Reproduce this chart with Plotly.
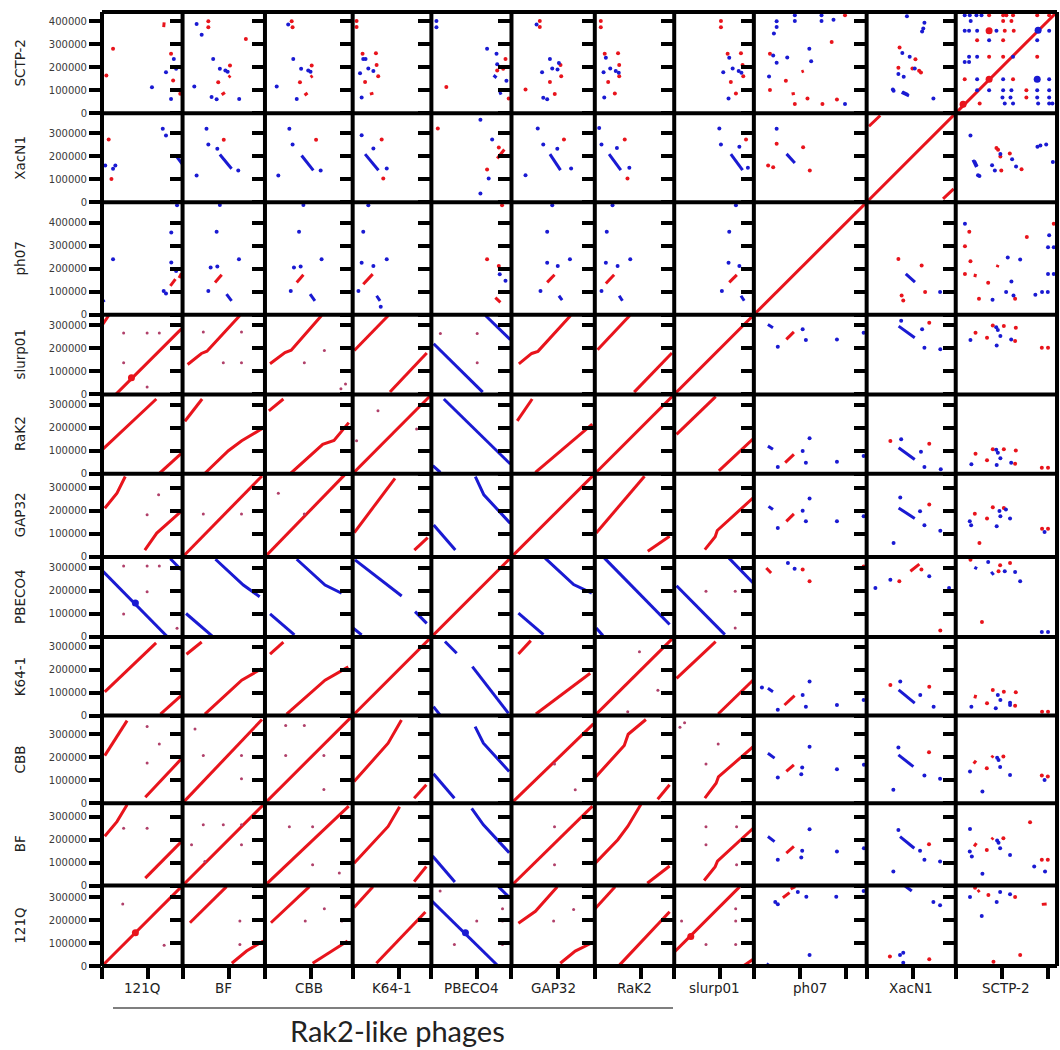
import plotly.graph_objects as go

# ---------------- data ----------------
GENOMES = ["121Q", "BF", "CBB", "K64-1", "PBECO4", "GAP32", "RaK2", "slurp01", "ph07", "XacN1", "SCTP-2"]
GENOME_KB = [350, 358, 381, 342, 348, 362, 345, 346, 490, 387, 440]
Y_TICK_VALUES = [0, 100000, 200000, 300000, 400000]
X_TICK_VALUES = [0, 200000, 400000]
GROUP_LABEL = "Rak2-like phages"

# forward (red) matches: (x genome, y genome, x kb list, y kb list); mirrored for the transposed panel
RED_LINES = [
    ("121Q", "slurp01", [60, 345], [0, 285]), ("121Q", "slurp01", [0, 29], [300, 343]),
    ("BF", "slurp01", [22, 82, 106, 249], [130, 178, 188, 343]),
    ("CBB", "slurp01", [22, 87, 114, 246], [133, 182, 192, 343]),
    ("K64-1", "slurp01", [7, 155], [191, 343]), ("K64-1", "slurp01", [162, 322], [10, 180]),
    ("GAP32", "slurp01", [32, 88, 115, 257], [133, 178, 187, 343]),
    ("RaK2", "slurp01", [12, 152], [194, 343]), ("RaK2", "slurp01", [171, 335], [10, 180]),
    ("121Q", "RaK2", [5, 236], [108, 325]), ("121Q", "RaK2", [248, 345], [0, 88]),
    ("BF", "RaK2", [10, 85], [228, 325]), ("BF", "RaK2", [95, 199, 257, 352], [0, 100, 143, 200]),
    ("CBB", "RaK2", [17, 80], [273, 325]), ("CBB", "RaK2", [110, 251, 300, 364], [0, 128, 145, 222]),
    ("K64-1", "RaK2", [0, 335], [0, 337]),
    ("121Q", "GAP32", [12, 65, 101], [212, 277, 350]), ("121Q", "GAP32", [186, 238, 345], [30, 104, 199]),
    ("BF", "GAP32", [0, 345], [0, 352]),
    ("CBB", "GAP32", [0, 345], [0, 356]),
    ("K64-1", "GAP32", [7, 184], [106, 342]), ("K64-1", "GAP32", [268, 326], [30, 84]),
    ("GAP32", "RaK2", [25, 90], [230, 325]), ("GAP32", "RaK2", [104, 264, 351], [6, 141, 216]),
    ("121Q", "K64-1", [12, 235], [103, 316]), ("121Q", "K64-1", [254, 345], [6, 88]),
    ("BF", "K64-1", [17, 83], [267, 320]), ("BF", "K64-1", [97, 257, 343], [6, 154, 204]),
    ("CBB", "K64-1", [22, 80], [267, 320]), ("CBB", "K64-1", [94, 261, 362], [6, 154, 212]),
    ("121Q", "CBB", [12, 70, 109], [207, 301, 359]), ("121Q", "CBB", [188, 345], [26, 193]),
    ("BF", "CBB", [0, 345], [0, 364]),
    ("121Q", "BF", [12, 65, 109], [214, 278, 351]), ("121Q", "BF", [188, 345], [32, 191]),
    ("121Q", "SCTP-2", [268, 270], [374, 395]), ("121Q", "SCTP-2", [322, 330], [95, 104]),
    ("BF", "SCTP-2", [200, 208], [156, 163]), ("BF", "SCTP-2", [170, 184], [80, 90]),
    ("CBB", "SCTP-2", [198, 207], [156, 163]), ("CBB", "SCTP-2", [172, 185], [78, 88]),
    ("K64-1", "SCTP-2", [75, 90], [83, 87]),
    ("ph07", "SCTP-2", [207, 217], [180, 184]), ("ph07", "SCTP-2", [164, 178], [83, 86]),
    ("PBECO4", "XacN1", [286, 317], [190, 229]),
    ("121Q", "ph07", [335, 345], [160, 180]), ("121Q", "ph07", [297, 319], [126, 155]),
    ("BF", "ph07", [141, 170], [141, 174]), ("CBB", "ph07", [138, 167], [141, 174]),
    ("K64-1", "ph07", [46, 87], [133, 177]), ("PBECO4", "ph07", [278, 300], [75, 54]),
    ("GAP32", "ph07", [155, 187], [141, 174]), ("RaK2", "ph07", [48, 84], [136, 174]),
    ("slurp01", "ph07", [239, 272], [141, 174]),
    ("XacN1", "XacN1", [10, 59], [330, 377]), ("XacN1", "XacN1", [332, 378], [14, 58]),
]

# reverse (blue) matches
BLUE_LINES = [
    ("121Q", "PBECO4", [0, 285], [290, 0]), ("121Q", "PBECO4", [297, 345], [340, 291]),
    ("BF", "PBECO4", [143, 264, 335], [338, 226, 175]), ("BF", "PBECO4", [15, 128], [102, 5]),
    ("CBB", "PBECO4", [138, 261, 333], [338, 226, 190]), ("CBB", "PBECO4", [22, 128], [100, 9]),
    ("K64-1", "PBECO4", [10, 213], [335, 178]), ("K64-1", "PBECO4", [271, 322], [110, 59]),
    ("K64-1", "PBECO4", [0, 39], [40, 9]),
    ("PBECO4", "GAP32", [191, 228, 343], [349, 270, 146]), ("PBECO4", "GAP32", [10, 104], [139, 30]),
    ("PBECO4", "RaK2", [54, 343], [325, 42]), ("PBECO4", "RaK2", [6, 39], [35, 6]),
    ("PBECO4", "slurp01", [10, 223], [220, 10]), ("PBECO4", "slurp01", [235, 343], [343, 238]),
    ("121Q", "XacN1", [326, 348], [196, 167]), ("BF", "XacN1", [162, 213], [207, 145]),
    ("CBB", "XacN1", [159, 210], [203, 138]), ("K64-1", "XacN1", [54, 112], [209, 139]),
    ("GAP32", "XacN1", [167, 213], [209, 139]), ("RaK2", "XacN1", [62, 113], [209, 139]),
    ("slurp01", "XacN1", [246, 297], [209, 139]), ("ph07", "XacN1", [142, 178], [210, 170]),
    ("SCTP-2", "XacN1", [75, 90], [184, 152]),
    ("PBECO4", "SCTP-2", [270, 283], [165, 154]), ("PBECO4", "SCTP-2", [297, 303], [93, 81]),
    ("XacN1", "SCTP-2", [155, 180], [93, 81]),
    ("121Q", "ph07", [0, 10], [70, 55]), ("BF", "ph07", [191, 213], [90, 61]),
    ("CBB", "ph07", [196, 217], [90, 61]), ("K64-1", "ph07", [104, 119], [83, 61]),
    ("GAP32", "ph07", [206, 220], [83, 64]), ("RaK2", "ph07", [106, 120], [83, 61]),
    ("slurp01", "ph07", [290, 304], [83, 61]),
]

RED_DOTS = [
    ("121Q", "SCTP-2", 48, 280), ("121Q", "SCTP-2", 19, 164), ("121Q", "SCTP-2", 300, 258), ("121Q", "SCTP-2", 309, 142), ("121Q", "SCTP-2", 340, 84),
    ("BF", "SCTP-2", 112, 400), ("BF", "SCTP-2", 112, 374), ("BF", "SCTP-2", 206, 207), ("BF", "SCTP-2", 155, 135), ("BF", "SCTP-2", 275, 323),
    ("CBB", "SCTP-2", 116, 400), ("CBB", "SCTP-2", 120, 374), ("CBB", "SCTP-2", 203, 207), ("CBB", "SCTP-2", 152, 135),
    ("K64-1", "SCTP-2", 17, 401), ("K64-1", "SCTP-2", 17, 375), ("K64-1", "SCTP-2", 43, 258), ("K64-1", "SCTP-2", 101, 261), ("K64-1", "SCTP-2", 104, 209), ("K64-1", "SCTP-2", 111, 161), ("K64-1", "SCTP-2", 54, 136),
    ("PBECO4", "SCTP-2", 322, 236), ("PBECO4", "SCTP-2", 286, 186), ("PBECO4", "SCTP-2", 312, 193), ("PBECO4", "SCTP-2", 336, 64), ("PBECO4", "SCTP-2", 65, 114),
    ("GAP32", "SCTP-2", 123, 401), ("GAP32", "SCTP-2", 123, 375), ("GAP32", "SCTP-2", 213, 209), ("GAP32", "SCTP-2", 216, 161), ("GAP32", "SCTP-2", 167, 136), ("GAP32", "SCTP-2", 188, 83), ("GAP32", "SCTP-2", 61, 103),
    ("RaK2", "SCTP-2", 26, 401), ("RaK2", "SCTP-2", 26, 374), ("RaK2", "SCTP-2", 43, 258), ("RaK2", "SCTP-2", 101, 261), ("RaK2", "SCTP-2", 106, 209), ("RaK2", "SCTP-2", 106, 161), ("RaK2", "SCTP-2", 58, 136), ("RaK2", "SCTP-2", 87, 86),
    ("slurp01", "SCTP-2", 203, 401), ("slurp01", "SCTP-2", 203, 374), ("slurp01", "SCTP-2", 232, 258), ("slurp01", "SCTP-2", 290, 261), ("slurp01", "SCTP-2", 297, 209), ("slurp01", "SCTP-2", 300, 161), ("slurp01", "SCTP-2", 246, 136), ("slurp01", "SCTP-2", 268, 86),
    ("ph07", "SCTP-2", 396, 426), ("ph07", "SCTP-2", 338, 309), ("ph07", "SCTP-2", 70, 258), ("ph07", "SCTP-2", 139, 141), ("ph07", "SCTP-2", 178, 40), ("ph07", "SCTP-2", 233, 64), ("ph07", "SCTP-2", 298, 40), ("ph07", "SCTP-2", 361, 59), ("ph07", "SCTP-2", 70, 101),
    ("XacN1", "SCTP-2", 143, 286), ("XacN1", "SCTP-2", 228, 184), ("XacN1", "SCTP-2", 199, 194),
    ("SCTP-2", "SCTP-2", 145, 426), ("SCTP-2", "SCTP-2", 206, 426), ("SCTP-2", "SCTP-2", 220, 426), ("SCTP-2", "SCTP-2", 249, 426), ("SCTP-2", "SCTP-2", 354, 426), ("SCTP-2", "SCTP-2", 406, 426),
    ("SCTP-2", "SCTP-2", 206, 401), ("SCTP-2", "SCTP-2", 242, 401), ("SCTP-2", "SCTP-2", 213, 358), ("SCTP-2", "SCTP-2", 252, 358),
    ("SCTP-2", "SCTP-2", 93, 317), ("SCTP-2", "SCTP-2", 206, 317), ("SCTP-2", "SCTP-2", 145, 245), ("SCTP-2", "SCTP-2", 206, 245), ("SCTP-2", "SCTP-2", 354, 245),
    ("SCTP-2", "SCTP-2", 39, 148), ("SCTP-2", "SCTP-2", 249, 148), ("SCTP-2", "SCTP-2", 307, 100), ("SCTP-2", "SCTP-2", 307, 68), ("SCTP-2", "SCTP-2", 104, 42),
    ("121Q", "XacN1", 29, 272), ("121Q", "XacN1", 41, 101), ("BF", "XacN1", 179, 271), ("CBB", "XacN1", 222, 271),
    ("K64-1", "XacN1", 126, 272), ("K64-1", "XacN1", 133, 103),
    ("PBECO4", "XacN1", 293, 238), ("PBECO4", "XacN1", 242, 142), ("PBECO4", "XacN1", 28, 320),
    ("GAP32", "XacN1", 228, 272), ("RaK2", "XacN1", 130, 272), ("RaK2", "XacN1", 142, 103), ("slurp01", "XacN1", 312, 272),
    ("ph07", "XacN1", 214, 239), ("ph07", "XacN1", 99, 254), ("ph07", "XacN1", 62, 159), ("ph07", "XacN1", 84, 152), ("ph07", "XacN1", 243, 138),
    ("SCTP-2", "XacN1", 177, 236), ("SCTP-2", "XacN1", 235, 212), ("SCTP-2", "XacN1", 198, 138),
    ("PBECO4", "ph07", 307, 477), ("PBECO4", "ph07", 242, 242), ("PBECO4", "ph07", 293, 212),
]

BLUE_DOTS = [
    ("121Q", "SCTP-2", 312, 236), ("121Q", "SCTP-2", 278, 178), ("121Q", "SCTP-2", 322, 193), ("121Q", "SCTP-2", 300, 62), ("121Q", "SCTP-2", 217, 113),
    ("BF", "SCTP-2", 61, 388), ("BF", "SCTP-2", 133, 236), ("BF", "SCTP-2", 162, 193), ("BF", "SCTP-2", 186, 186), ("BF", "SCTP-2", 196, 180), ("BF", "SCTP-2", 51, 116), ("BF", "SCTP-2", 148, 61), ("BF", "SCTP-2", 126, 70), ("BF", "SCTP-2", 246, 62), ("BF", "SCTP-2", 83, 341),
    ("CBB", "SCTP-2", 101, 386), ("CBB", "SCTP-2", 123, 236), ("CBB", "SCTP-2", 157, 193), ("CBB", "SCTP-2", 188, 186), ("CBB", "SCTP-2", 198, 180), ("CBB", "SCTP-2", 51, 116), ("CBB", "SCTP-2", 138, 62),
    ("K64-1", "SCTP-2", 46, 236), ("K64-1", "SCTP-2", 56, 236), ("K64-1", "SCTP-2", 68, 194), ("K64-1", "SCTP-2", 32, 174), ("K64-1", "SCTP-2", 90, 183), ("K64-1", "SCTP-2", 39, 68),
    ("PBECO4", "SCTP-2", 22, 401), ("PBECO4", "SCTP-2", 22, 374), ("PBECO4", "SCTP-2", 242, 280), ("PBECO4", "SCTP-2", 283, 258), ("PBECO4", "SCTP-2", 286, 213), ("PBECO4", "SCTP-2", 326, 141),
    ("GAP32", "SCTP-2", 109, 386), ("GAP32", "SCTP-2", 167, 236), ("GAP32", "SCTP-2", 206, 218), ("GAP32", "SCTP-2", 177, 194), ("GAP32", "SCTP-2", 200, 190), ("GAP32", "SCTP-2", 133, 178), ("GAP32", "SCTP-2", 138, 67), ("GAP32", "SCTP-2", 155, 61),
    ("RaK2", "SCTP-2", 48, 241), ("RaK2", "SCTP-2", 67, 194), ("RaK2", "SCTP-2", 38, 178), ("RaK2", "SCTP-2", 91, 183), ("RaK2", "SCTP-2", 104, 176), ("RaK2", "SCTP-2", 41, 68),
    ("slurp01", "SCTP-2", 239, 241), ("slurp01", "SCTP-2", 213, 178), ("slurp01", "SCTP-2", 254, 194), ("slurp01", "SCTP-2", 280, 183), ("slurp01", "SCTP-2", 292, 176), ("slurp01", "SCTP-2", 236, 64),
    ("ph07", "SCTP-2", 99, 400), ("ph07", "SCTP-2", 99, 375), ("ph07", "SCTP-2", 87, 346), ("ph07", "SCTP-2", 178, 426), ("ph07", "SCTP-2", 178, 401), ("ph07", "SCTP-2", 294, 426), ("ph07", "SCTP-2", 294, 401), ("ph07", "SCTP-2", 346, 406),
    ("ph07", "SCTP-2", 241, 280), ("ph07", "SCTP-2", 84, 251), ("ph07", "SCTP-2", 99, 219), ("ph07", "SCTP-2", 145, 242), ("ph07", "SCTP-2", 249, 226), ("ph07", "SCTP-2", 66, 160), ("ph07", "SCTP-2", 396, 40),
    ("XacN1", "SCTP-2", 175, 422), ("XacN1", "SCTP-2", 241, 355), ("XacN1", "SCTP-2", 155, 262), ("XacN1", "SCTP-2", 187, 245), ("XacN1", "SCTP-2", 209, 194), ("XacN1", "SCTP-2", 161, 158), ("XacN1", "SCTP-2", 138, 170), ("XacN1", "SCTP-2", 114, 103),
    ("SCTP-2", "SCTP-2", 39, 426), ("SCTP-2", "SCTP-2", 61, 426), ("SCTP-2", "SCTP-2", 90, 426), ("SCTP-2", "SCTP-2", 112, 426), ("SCTP-2", "SCTP-2", 65, 401),
    ("SCTP-2", "SCTP-2", 39, 358), ("SCTP-2", "SCTP-2", 58, 358), ("SCTP-2", "SCTP-2", 93, 358), ("SCTP-2", "SCTP-2", 177, 358), ("SCTP-2", "SCTP-2", 406, 358),
    ("SCTP-2", "SCTP-2", 145, 317), ("SCTP-2", "SCTP-2", 354, 317), ("SCTP-2", "SCTP-2", 58, 245), ("SCTP-2", "SCTP-2", 93, 245), ("SCTP-2", "SCTP-2", 249, 245),
    ("SCTP-2", "SCTP-2", 39, 223), ("SCTP-2", "SCTP-2", 58, 223), ("SCTP-2", "SCTP-2", 93, 148), ("SCTP-2", "SCTP-2", 206, 148), ("SCTP-2", "SCTP-2", 406, 148),
    ("SCTP-2", "SCTP-2", 93, 100), ("SCTP-2", "SCTP-2", 145, 100), ("SCTP-2", "SCTP-2", 206, 100), ("SCTP-2", "SCTP-2", 242, 100), ("SCTP-2", "SCTP-2", 354, 100), ("SCTP-2", "SCTP-2", 406, 100),
    ("SCTP-2", "SCTP-2", 203, 68), ("SCTP-2", "SCTP-2", 238, 68), ("SCTP-2", "SCTP-2", 354, 68), ("SCTP-2", "SCTP-2", 406, 68),
    ("SCTP-2", "SCTP-2", 213, 42), ("SCTP-2", "SCTP-2", 249, 42), ("SCTP-2", "SCTP-2", 358, 42), ("SCTP-2", "SCTP-2", 406, 42), ("SCTP-2", "SCTP-2", 420, 42),
    ("121Q", "XacN1", 264, 319), ("121Q", "XacN1", 278, 290), ("121Q", "XacN1", 14, 159), ("121Q", "XacN1", 58, 159), ("121Q", "XacN1", 48, 145),
    ("BF", "XacN1", 104, 319), ("BF", "XacN1", 112, 251), ("BF", "XacN1", 151, 232), ("BF", "XacN1", 242, 138), ("BF", "XacN1", 61, 116),
    ("CBB", "XacN1", 106, 319), ("CBB", "XacN1", 120, 251), ("CBB", "XacN1", 242, 138), ("CBB", "XacN1", 58, 116),
    ("K64-1", "XacN1", 39, 291), ("K64-1", "XacN1", 90, 233), ("K64-1", "XacN1", 148, 146),
    ("PBECO4", "XacN1", 213, 358), ("PBECO4", "XacN1", 249, 103), ("PBECO4", "XacN1", 264, 272), ("PBECO4", "XacN1", 213, 38),
    ("GAP32", "XacN1", 114, 320), ("GAP32", "XacN1", 138, 251), ("GAP32", "XacN1", 199, 232), ("GAP32", "XacN1", 259, 146), ("GAP32", "XacN1", 61, 117),
    ("RaK2", "XacN1", 19, 322), ("RaK2", "XacN1", 29, 251), ("RaK2", "XacN1", 96, 236), ("RaK2", "XacN1", 150, 150),
    ("slurp01", "XacN1", 196, 320), ("slurp01", "XacN1", 203, 251), ("slurp01", "XacN1", 283, 241), ("slurp01", "XacN1", 320, 150),
    ("ph07", "XacN1", 99, 319), ("SCTP-2", "XacN1", 64, 290), ("SCTP-2", "XacN1", 368, 246), ("SCTP-2", "XacN1", 393, 251), ("SCTP-2", "XacN1", 97, 117),
    ("121Q", "ph07", 326, 477), ("121Q", "ph07", 301, 358), ("121Q", "ph07", 48, 242), ("121Q", "ph07", 301, 228), ("121Q", "ph07", 322, 191), ("121Q", "ph07", 268, 104), ("121Q", "ph07", 278, 93),
    ("BF", "ph07", 162, 478), ("BF", "ph07", 148, 361), ("BF", "ph07", 245, 242), ("BF", "ph07", 122, 206), ("BF", "ph07", 151, 210), ("BF", "ph07", 112, 104),
    ("CBB", "ph07", 167, 478), ("CBB", "ph07", 148, 361), ("CBB", "ph07", 246, 242), ("CBB", "ph07", 126, 206), ("CBB", "ph07", 155, 210), ("CBB", "ph07", 112, 104),
    ("K64-1", "ph07", 68, 477), ("K64-1", "ph07", 46, 361), ("K64-1", "ph07", 39, 226), ("K64-1", "ph07", 90, 212), ("K64-1", "ph07", 148, 242), ("K64-1", "ph07", 25, 104), ("K64-1", "ph07", 122, 35),
    ("PBECO4", "ph07", 297, 177), ("PBECO4", "ph07", 322, 148),
    ("GAP32", "ph07", 177, 477), ("GAP32", "ph07", 155, 361), ("GAP32", "ph07", 155, 226), ("GAP32", "ph07", 201, 212), ("GAP32", "ph07", 254, 242), ("GAP32", "ph07", 126, 104),
    ("RaK2", "ph07", 77, 477), ("RaK2", "ph07", 52, 361), ("RaK2", "ph07", 48, 226), ("RaK2", "ph07", 99, 212), ("RaK2", "ph07", 154, 242), ("RaK2", "ph07", 29, 104),
    ("slurp01", "ph07", 268, 477), ("slurp01", "ph07", 239, 361), ("slurp01", "ph07", 236, 226), ("slurp01", "ph07", 283, 212), ("slurp01", "ph07", 207, 104),
]

# weak, short hits inside the Rak2-like block
FAINT_DOTS = [
    ("121Q", "slurp01", 94, 267), ("121Q", "slurp01", 94, 138), ("121Q", "slurp01", 196, 267), ("121Q", "slurp01", 249, 267), ("121Q", "slurp01", 196, 32),
    ("BF", "slurp01", 90, 271), ("BF", "slurp01", 256, 271), ("BF", "slurp01", 177, 138), ("BF", "slurp01", 256, 138),
    ("CBB", "slurp01", 171, 138), ("CBB", "slurp01", 258, 191), ("CBB", "slurp01", 330, 25), ("CBB", "slurp01", 350, 45),
    ("K64-1", "RaK2", 110, 274), ("K64-1", "RaK2", 278, 194), ("K64-1", "RaK2", 17, 143),
    ("121Q", "GAP32", 196, 183), ("121Q", "GAP32", 246, 270), ("BF", "GAP32", 90, 187), ("BF", "GAP32", 256, 187),
    ("CBB", "GAP32", 58, 277), ("CBB", "GAP32", 171, 187),
    ("121Q", "PBECO4", 94, 309), ("121Q", "PBECO4", 196, 309), ("121Q", "PBECO4", 249, 309), ("121Q", "PBECO4", 196, 197), ("121Q", "PBECO4", 94, 100), ("121Q", "PBECO4", 326, 38),
    ("PBECO4", "slurp01", 39, 265), ("PBECO4", "slurp01", 199, 265), ("PBECO4", "slurp01", 199, 138),
    ("121Q", "CBB", 196, 334), ("121Q", "CBB", 249, 258), ("121Q", "CBB", 196, 175),
    ("121Q", "BF", 196, 249), ("121Q", "BF", 94, 249), ("121Q", "121Q", 90, 270), ("121Q", "121Q", 270, 90),
    ("BF", "CBB", 90, 207), ("BF", "CBB", 256, 207), ("BF", "CBB", 256, 106), ("BF", "CBB", 54, 323),
    ("BF", "BF", 90, 264), ("BF", "BF", 177, 264), ("BF", "BF", 256, 264), ("BF", "BF", 39, 177), ("BF", "BF", 256, 177), ("BF", "BF", 97, 104),
    ("CBB", "CBB", 90, 338), ("CBB", "CBB", 171, 338), ("CBB", "CBB", 256, 207), ("CBB", "CBB", 90, 207), ("CBB", "CBB", 256, 60),
]

BIG_RED = [("121Q", "slurp01", 128, 72), ("121Q", "121Q", 145, 145), ("SCTP-2", "SCTP-2", 32, 39),
           ("SCTP-2", "SCTP-2", 145, 148), ("SCTP-2", "SCTP-2", 145, 358)]
BIG_BLUE = [("121Q", "PBECO4", 145, 148), ("SCTP-2", "SCTP-2", 358, 361), ("SCTP-2", "SCTP-2", 354, 148)]

RED = "#e8141c"
BLUE = "#1a1ad2"
FAINT = "#b0406a"

# ---------------- build ----------------
N = len(GENOMES)
IDX = {g: i for i, g in enumerate(GENOMES)}
TOTAL = float(sum(GENOME_KB))
STARTS = []
acc = 0
for L in GENOME_KB:
    STARTS.append(acc)
    acc += L


def aid(ci, ri):
    return ri * N + ci + 1


def ax_names(k):
    return ("x" if k == 1 else f"x{k}", "y" if k == 1 else f"y{k}")


panels = {}


def add_line(cg, rg, xs, ys, color):
    key = (IDX[cg], IDX[rg], color, "line")
    px, py = panels.setdefault(key, ([], []))
    px.extend([v * 1000 for v in xs] + [None])
    py.extend([v * 1000 for v in ys] + [None])


def add_dot(cg, rg, x, y, kind):
    key = (IDX[cg], IDX[rg], kind, "dot")
    px, py = panels.setdefault(key, ([], []))
    px.append(x * 1000)
    py.append(y * 1000)


for g, L in zip(GENOMES, GENOME_KB):
    add_line(g, g, [0, L], [0, L], RED)

for lines, color in ((RED_LINES, RED), (BLUE_LINES, BLUE)):
    for cg, rg, xs, ys in lines:
        add_line(cg, rg, xs, ys, color)
        if cg != rg:
            add_line(rg, cg, ys, xs, color)

for dots, kind in ((RED_DOTS, "red"), (BLUE_DOTS, "blue"), (FAINT_DOTS, "faint"),
                   (BIG_RED, "bigred"), (BIG_BLUE, "bigblue")):
    for cg, rg, x, y in dots:
        add_dot(cg, rg, x, y, kind)
        if cg != rg:
            add_dot(rg, cg, y, x, kind)

DOT_STYLE = {"red": (RED, 4), "blue": (BLUE, 4), "faint": (FAINT, 3), "bigred": (RED, 7), "bigblue": (BLUE, 7)}

fig = go.Figure()
for (ci, ri, style, kind), (xs, ys) in panels.items():
    xn, yn = ax_names(aid(ci, ri))
    if kind == "line":
        fig.add_trace(go.Scatter(x=xs, y=ys, mode="lines", line=dict(color=style, width=3),
                                 xaxis=xn, yaxis=yn, hoverinfo="skip", showlegend=False))
    else:
        col, size = DOT_STYLE[style]
        fig.add_trace(go.Scatter(x=xs, y=ys, mode="markers", marker=dict(color=col, size=size, line=dict(width=0)),
                                 xaxis=xn, yaxis=yn, hoverinfo="skip", showlegend=False))

FONT = "DejaVu Sans"
layout = {}
for ri in range(N):
    for ci in range(N):
        k = aid(ci, ri)
        xk = "xaxis" if k == 1 else f"xaxis{k}"
        yk = "yaxis" if k == 1 else f"yaxis{k}"
        xn, yn = ax_names(k)
        Lx = GENOME_KB[ci] * 1000
        Ly = GENOME_KB[ri] * 1000
        xt = [v for v in X_TICK_VALUES if v <= Lx]
        yt = [v for v in Y_TICK_VALUES if v <= Ly]
        layout[xk] = dict(domain=[STARTS[ci] / TOTAL, (STARTS[ci] + GENOME_KB[ci]) / TOTAL],
                          range=[0, Lx], anchor=yn, showgrid=False, zeroline=False, showline=False,
                          ticks="outside" if ri == 0 else "", tickvals=xt, ticklen=12, tickwidth=4,
                          tickcolor="black", showticklabels=False, fixedrange=True)
        layout[yk] = dict(domain=[STARTS[ri] / TOTAL, (STARTS[ri] + GENOME_KB[ri]) / TOTAL],
                          range=[0, Ly], anchor=xn, showgrid=False, zeroline=False, showline=False,
                          ticks="outside", tickvals=yt, ticktext=[str(v) for v in yt],
                          ticklen=12, tickwidth=4, tickcolor="black",
                          showticklabels=(ci == 0), tickfont=dict(family=FONT, size=10, color="#3a3a3a"),
                          fixedrange=True)

W, H = 1060, 1050
ML, MR, MT, MB = 102, 3, 12, 84
PW, PH = W - ML - MR, H - MT - MB


def px_x(p):
    return (p - ML) / PW


def px_y(p):
    return (H - MB - p) / PH


shapes = []
for s in STARTS + [TOTAL]:
    f = s / TOTAL
    shapes.append(dict(type="line", xref="paper", yref="paper", x0=f, x1=f, y0=0, y1=1,
                       line=dict(color="black", width=4)))
    shapes.append(dict(type="line", xref="paper", yref="paper", x0=0, x1=1, y0=f, y1=f,
                       line=dict(color="black", width=4)))
shapes.append(dict(type="line", xref="paper", yref="paper",
                   x0=px_x(113), x1=px_x(673), y0=px_y(1008), y1=px_y(1008),
                   line=dict(color="#555555", width=1.5)))

annotations = []
for i, g in enumerate(GENOMES):
    c = (STARTS[i] + GENOME_KB[i] / 2) / TOTAL
    annotations.append(dict(text=g, xref="paper", yref="paper", x=px_x(20), y=c, textangle=-90,
                            showarrow=False, xanchor="center", yanchor="middle",
                            font=dict(family=FONT, size=13.5, color="#222222")))
    annotations.append(dict(text=g, xref="paper", yref="paper", x=c, y=px_y(988),
                            showarrow=False, xanchor="center", yanchor="middle",
                            font=dict(family=FONT, size=13.5, color="#222222")))
annotations.append(dict(text=GROUP_LABEL, xref="paper", yref="paper", x=px_x(397), y=px_y(1030),
                        showarrow=False, xanchor="center", yanchor="middle",
                        font=dict(family="Lato", size=29, color="#222222")))

fig.update_layout(width=W, height=H, margin=dict(l=ML, r=MR, t=MT, b=MB),
                  paper_bgcolor="white", plot_bgcolor="white", showlegend=False,
                  shapes=shapes, annotations=annotations, **layout)

fig.write_html("out.html", config={"displayModeBar": False},
               post_script="document.body.style.margin='0px';")
